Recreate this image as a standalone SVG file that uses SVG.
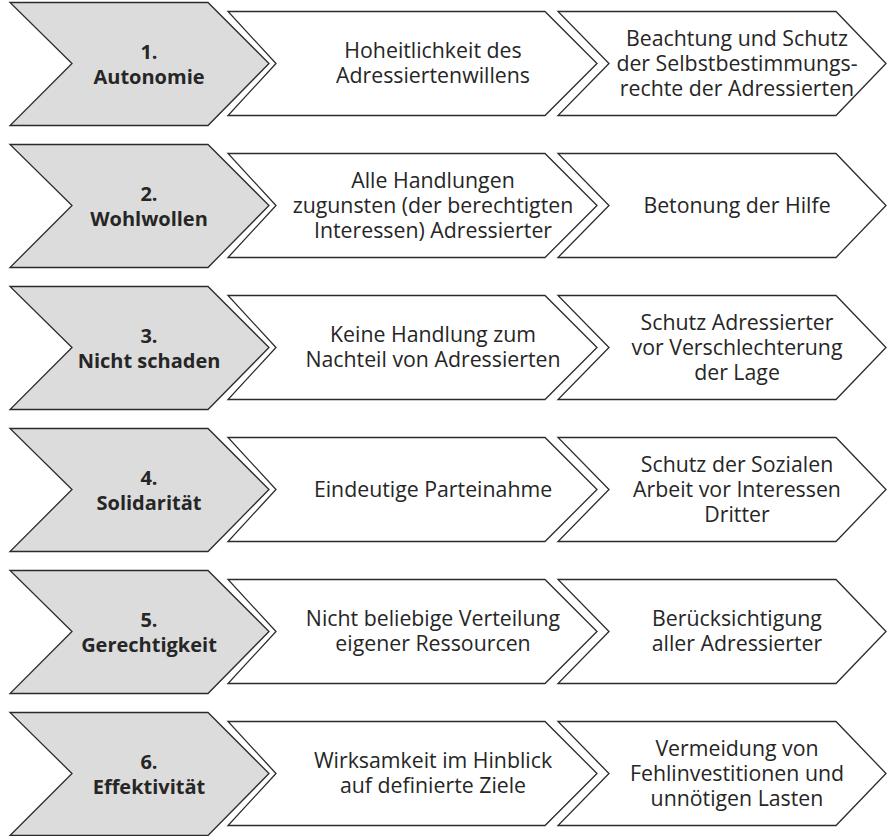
<svg xmlns="http://www.w3.org/2000/svg" width="888" height="836" viewBox="0 0 888 836">
<style>
.g{fill:#dcdcdc;stroke:#2b2b2b;stroke-width:1.3;stroke-linejoin:miter}
.w{fill:#ffffff;stroke:#2b2b2b;stroke-width:1.3;stroke-linejoin:miter}
.tb{font-family:"Open Sans","Noto Sans","Liberation Sans",sans-serif;font-weight:bold;font-size:20px;fill:#262626;text-anchor:middle}
.t{font-family:"Open Sans","Noto Sans","Liberation Sans",sans-serif;font-size:21.3px;fill:#262626;text-anchor:middle}
</style>
<defs>
<polygon id="gc" points="10,-61 208,-61 269,0 208,62 10,62 72,0"/>
<polygon id="m" points="228,-52 545,-52 597,0 545,52 228,52 276,0"/>
<polygon id="r" points="558,-52 836,-52 886,0 836,52 558,52 609,0"/>
</defs>
<g id="row1" transform="translate(0,63.5)">
<g id="n1a"><use href="#gc" class="g"/><text class="tb" x="149" y="-4.5">1.</text><text class="tb" x="149" y="20">Autonomie</text></g>
<g id="n1b"><use href="#m" class="w"/><text class="t" x="433" y="-5.5">Hoheitlichkeit des</text><text class="t" x="433" y="19.5">Adressiertenwillens</text></g>
<g id="n1c"><use href="#r" class="w"/><text class="t" x="737" y="-18">Beachtung und Schutz</text><text class="t" x="737" y="7">der Selbstbestimmungs-</text><text class="t" x="737" y="32">rechte der Adressierten</text></g>
</g>
<g id="row2" transform="translate(0,205.5)">
<g id="n2a"><use href="#gc" class="g"/><text class="tb" x="149" y="-4.5">2.</text><text class="tb" x="149" y="20">Wohlwollen</text></g>
<g id="n2b"><use href="#m" class="w"/><text class="t" x="433" y="-18">Alle Handlungen</text><text class="t" x="433" y="7">zugunsten (der berechtigten</text><text class="t" x="433" y="32">Interessen) Adressierter</text></g>
<g id="n2c"><use href="#r" class="w"/><text class="t" x="737" y="7">Betonung der Hilfe</text></g>
</g>
<g id="row3" transform="translate(0,347.5)">
<g id="n3a"><use href="#gc" class="g"/><text class="tb" x="149" y="-4.5">3.</text><text class="tb" x="149" y="20">Nicht schaden</text></g>
<g id="n3b"><use href="#m" class="w"/><text class="t" x="433" y="-5.5">Keine Handlung zum</text><text class="t" x="433" y="19.5">Nachteil von Adressierten</text></g>
<g id="n3c"><use href="#r" class="w"/><text class="t" x="737" y="-18">Schutz Adressierter</text><text class="t" x="737" y="7">vor Verschlechterung</text><text class="t" x="737" y="32">der Lage</text></g>
</g>
<g id="row4" transform="translate(0,489.5)">
<g id="n4a"><use href="#gc" class="g"/><text class="tb" x="149" y="-4.5">4.</text><text class="tb" x="149" y="20">Solidarität</text></g>
<g id="n4b"><use href="#m" class="w"/><text class="t" x="433" y="7">Eindeutige Parteinahme</text></g>
<g id="n4c"><use href="#r" class="w"/><text class="t" x="737" y="-18">Schutz der Sozialen</text><text class="t" x="737" y="7">Arbeit vor Interessen</text><text class="t" x="737" y="32">Dritter</text></g>
</g>
<g id="row5" transform="translate(0,631.5)">
<g id="n5a"><use href="#gc" class="g"/><text class="tb" x="149" y="-4.5">5.</text><text class="tb" x="149" y="20">Gerechtigkeit</text></g>
<g id="n5b"><use href="#m" class="w"/><text class="t" x="433" y="-5.5">Nicht beliebige Verteilung</text><text class="t" x="433" y="19.5">eigener Ressourcen</text></g>
<g id="n5c"><use href="#r" class="w"/><text class="t" x="737" y="-5.5">Berücksichtigung</text><text class="t" x="737" y="19.5">aller Adressierter</text></g>
</g>
<g id="row6" transform="translate(0,773.5)">
<g id="n6a"><use href="#gc" class="g"/><text class="tb" x="149" y="-4.5">6.</text><text class="tb" x="149" y="20">Effektivität</text></g>
<g id="n6b"><use href="#m" class="w"/><text class="t" x="433" y="-5.5">Wirksamkeit im Hinblick</text><text class="t" x="433" y="19.5">auf definierte Ziele</text></g>
<g id="n6c"><use href="#r" class="w"/><text class="t" x="737" y="-18">Vermeidung von</text><text class="t" x="737" y="7">Fehlinvestitionen und</text><text class="t" x="737" y="32">unnötigen Lasten</text></g>
</g>
<g id="connectors"></g>
</svg>
